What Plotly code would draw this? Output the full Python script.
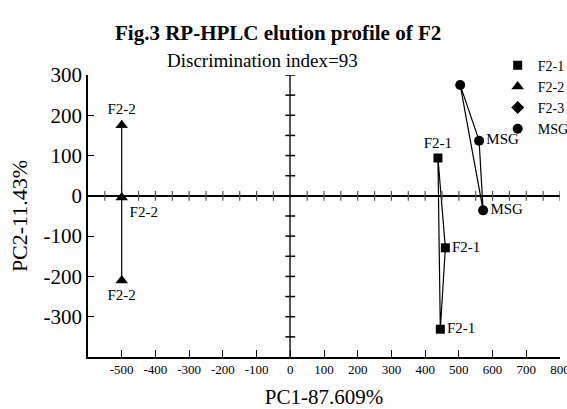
import plotly.graph_objects as go

# PCA scores (PC1, PC2) for each sample group
f21_x = [438, 460, 445]
f21_y = [94, -129, -331]
f22_x = [-500, -500, -500]
f22_y = [175, -4, -210]
msg_x = [504, 560, 572]
msg_y = [275, 137, -36]

f21_pos = ["top center", "middle right", "middle right"]
f22_pos = ["top center", "bottom right", "bottom center"]
msg_pos = ["top center", "middle right", "middle right"]

x_ticks = list(range(-500, 801, 100))
y_ticks = list(range(-300, 301, 100))
x_ticktext = [str(v) for v in x_ticks]
y_ticktext = [str(v) for v in y_ticks]
zero_x_marks = list(range(-550, 801, 50))
zero_y_marks = list(range(-350, 301, 50))

FONT = "Liberation Serif"

fig = go.Figure()


def closed(v):
    return list(v) + [v[0]]


# outline of each group (closed polygon)
for xs, ys in [(f21_x, f21_y), (f22_x, f22_y), (msg_x, msg_y)]:
    fig.add_trace(go.Scatter(x=closed(xs), y=closed(ys), mode="lines",
                             line=dict(color="black", width=1.2),
                             showlegend=False, hoverinfo="skip"))

# tick marks along the zero lines
fig.add_trace(go.Scatter(x=zero_x_marks, y=[0] * len(zero_x_marks), mode="markers",
                         marker=dict(symbol="line-ns", size=7,
                                     line=dict(color="#555", width=1.2)),
                         showlegend=False, hoverinfo="skip"))
fig.add_trace(go.Scatter(x=[0] * len(zero_y_marks), y=zero_y_marks, mode="markers",
                         marker=dict(symbol="line-ew", size=7,
                                     line=dict(color="black", width=1.5)),
                         showlegend=False, hoverinfo="skip"))

label_font = dict(family=FONT, size=15, color="black")

fig.add_trace(go.Scatter(x=f21_x, y=f21_y, mode="markers+text", name="F2-1",
                         text=["F2-1"] * 3, textposition=f21_pos, textfont=label_font,
                         marker=dict(symbol="square", size=9, color="black")))
fig.add_trace(go.Scatter(x=f22_x, y=f22_y, mode="markers+text", name="F2-2",
                         text=["F2-2"] * 3, textposition=f22_pos, textfont=label_font,
                         marker=dict(symbol="triangle-up", size=11, color="black")))
fig.add_trace(go.Scatter(x=[None], y=[None], mode="markers", name="F2-3",
                         marker=dict(symbol="diamond", size=10, color="black")))
fig.add_trace(go.Scatter(x=msg_x, y=msg_y, mode="markers+text", name="MSG",
                         text=["MSG"] * 3, textposition=msg_pos, textfont=label_font,
                         marker=dict(symbol="circle", size=10, color="black")))

fig.update_xaxes(range=[-600, 800], tickvals=x_ticks, ticktext=x_ticktext,
                 ticks="inside", ticklen=7, automargin=False, ticklabeloverflow="allow",
                 tickcolor="black", showline=True, linecolor="black", linewidth=1.5,
                 showgrid=False, zeroline=True, zerolinecolor="#555", zerolinewidth=1.8,
                 tickfont=dict(family=FONT, size=13, color="black"),
                 title=dict(text="PC1-87.609%", standoff=25,
                            font=dict(family=FONT, size=21, color="black")))
fig.update_yaxes(range=[-400, 300], tickvals=y_ticks, ticktext=y_ticktext,
                 ticks="inside", ticklen=6, automargin=False, ticklabeloverflow="allow",
                 tickcolor="black", showline=True, linecolor="black", linewidth=1.5,
                 showgrid=False, zeroline=True, zerolinecolor="black", zerolinewidth=1.5,
                 tickfont=dict(family=FONT, size=21, color="black"),
                 title=dict(text="PC2-11.43%", standoff=10,
                            font=dict(family=FONT, size=22, color="black")))

fig.add_annotation(text="<b>Fig.3 RP-HPLC elution profile of F2</b>", xref="paper", yref="paper",
                   x=0.403, y=1.0, yanchor="middle", yshift=42, showarrow=False,
                   font=dict(family=FONT, size=21, color="black"))
fig.add_annotation(text="Discrimination index=93", xref="paper", yref="paper",
                   x=0.369, y=1.0, yanchor="middle", yshift=15, showarrow=False,
                   font=dict(family=FONT, size=19, color="black"))

fig.update_layout(
    width=567, height=409,
    margin=dict(l=88, r=7, t=75, b=52, autoexpand=False),
    paper_bgcolor="white", plot_bgcolor="white",
    font=dict(family=FONT, color="black"),
    legend=dict(x=0.868, y=1.09, xanchor="left", yanchor="top",
                bgcolor="rgba(0,0,0,0)", font=dict(family=FONT, size=14, color="black"),
                tracegroupgap=0),
)

fig.write_html("out.html")
